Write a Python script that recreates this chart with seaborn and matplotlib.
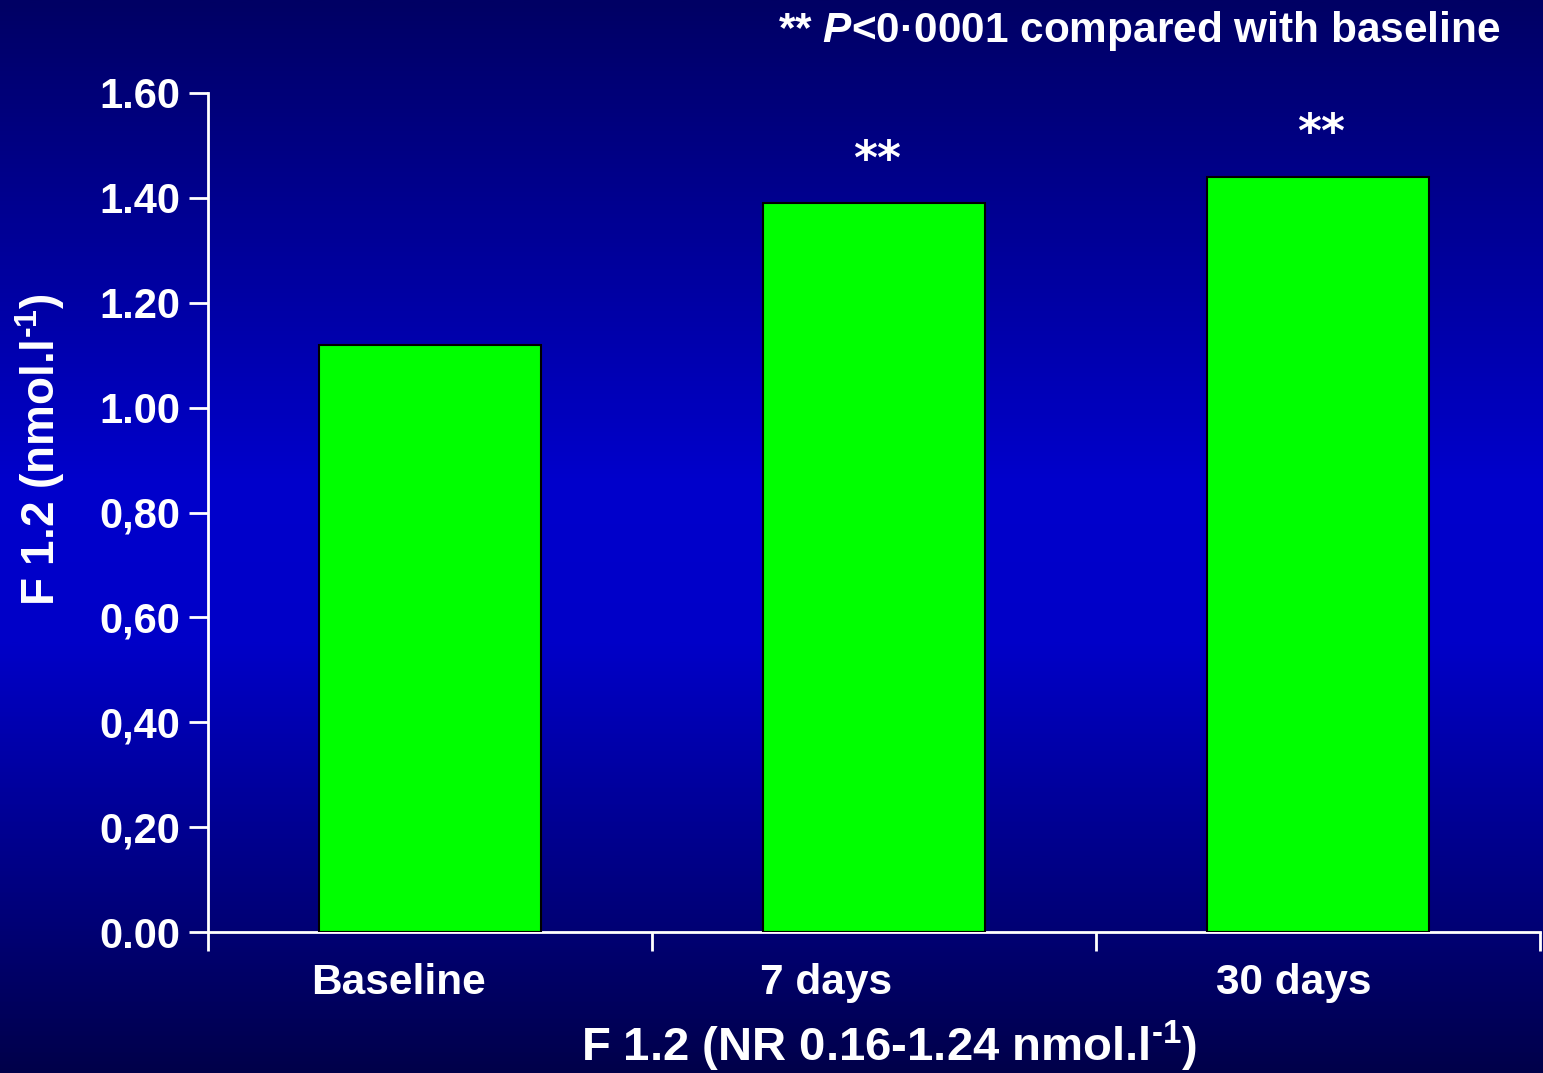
import numpy as np
import pandas as pd
import matplotlib
matplotlib.use("Agg")
import matplotlib.pyplot as plt
import matplotlib.transforms as mtransforms
from matplotlib.colors import LinearSegmentedColormap
import seaborn as sns

categories = ["Baseline", "7 days", "30 days"]
values = [1.12, 1.39, 1.44]
stars = ["", "**", "**"]
ytick_vals = [0.0, 0.2, 0.4, 0.6, 0.8, 1.0, 1.2, 1.4, 1.6]
ytick_labels = ["0.00", "0,20", "0,40", "0,60", "0,80", "1.00", "1.20", "1.40", "1.60"]
title_text = r"** $\mathit{P}$<0·0001 compared with baseline"
ylabel_text = r"F 1.2 (nmol.l$^{\text{-1}}$)"
xlabel_text = r"F 1.2 (NR 0.16-1.24 nmol.l$^{\text{-1}}$)"

sns.set_theme(style="white")
plt.rcParams["font.family"] = ["Liberation Sans", "DejaVu Sans"]
plt.rcParams["font.weight"] = "bold"
plt.rcParams["mathtext.fontset"] = "custom"
plt.rcParams["mathtext.rm"] = "Liberation Sans:bold"
plt.rcParams["mathtext.it"] = "Liberation Sans:bold:italic"
plt.rcParams["mathtext.bf"] = "Liberation Sans:bold"
plt.rcParams["mathtext.bfit"] = "Liberation Sans:bold:italic"
plt.rcParams["mathtext.default"] = "rm"

fig = plt.figure(figsize=(15.43, 10.73), dpi=100)

# background gradient
bg = fig.add_axes([0, 0, 1, 1], zorder=-10)
cmap = LinearSegmentedColormap.from_list(
    "bg", [(0.0, "#000064"), (0.45, "#0000CC"), (0.6, "#0000C8"), (1.0, "#00004A")])
grad = np.linspace(0, 1, 512).reshape(-1, 1)
bg.imshow(grad, aspect="auto", cmap=cmap, extent=[0, 1, 0, 1], origin="upper")
bg.set_axis_off()

ax = fig.add_axes([208 / 1543, 141 / 1073, 1332 / 1543, 839 / 1073])
ax.patch.set_alpha(0)

df = pd.DataFrame({"cat": categories, "val": values})
sns.barplot(data=df, x="cat", y="val", ax=ax, color="#00FF00", saturation=1,
            width=0.5, edgecolor="black", linewidth=1.5, zorder=3)

ax.set_xlim(-0.5, 2.5)
ax.set_ylim(0, 1.6)

for sp in ["top", "right"]:
    ax.spines[sp].set_visible(False)
for sp in ["left", "bottom"]:
    ax.spines[sp].set_color("white")
    ax.spines[sp].set_linewidth(2)

ax.set_yticks(ytick_vals)
ax.set_yticklabels(ytick_labels, fontsize=30, fontweight="bold", color="white")
ax.tick_params(axis="y", direction="out", length=14, width=2, color="white", pad=6, left=True)

ax.set_xticks(range(len(categories)))
ax.set_xticklabels(categories, fontsize=30.5, fontweight="bold", color="white")
ax.tick_params(axis="x", which="major", length=0, pad=22, bottom=True)
label_shift_px = [-32, -48, -24]
for lab, dx in zip(ax.get_xticklabels(), label_shift_px):
    lab.set_transform(lab.get_transform() +
                      mtransforms.ScaledTranslation(dx / 100, 0, fig.dpi_scale_trans))
ax.set_xticks([i - 0.5 for i in range(len(categories) + 1)], minor=True)
ax.tick_params(axis="x", which="minor", direction="out", length=14, width=2,
               color="white", bottom=True)

xl = ax.set_xlabel(xlabel_text, fontsize=34, fontweight="bold", color="white", labelpad=12)
xl.set_x(0.511)
yl = ax.set_ylabel(ylabel_text, fontsize=33, fontweight="bold", color="white", labelpad=23)
yl.set_y(0.575)

for i, (v, s) in enumerate(zip(values, stars)):
    if s:
        ax.annotate(s, (i, v), xytext=(2, 14), textcoords="offset points",
                    ha="center", va="bottom", fontsize=33, fontweight="bold",
                    color="white", family="DejaVu Sans")

fig.text(1500 / 1543, 1 - 31 / 1073, title_text, ha="right", va="center",
         fontsize=30.5, fontweight="bold", color="white")

fig.savefig("out.png", dpi=100)
